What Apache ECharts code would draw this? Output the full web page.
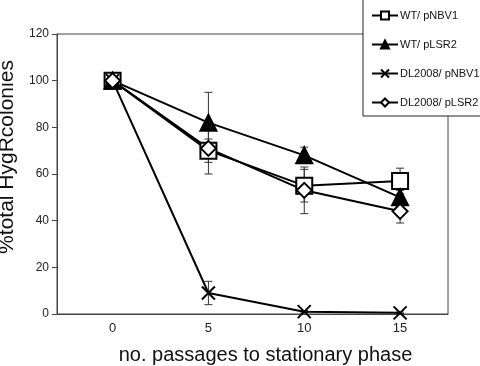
<!DOCTYPE html>
<html>
<head>
<meta charset="utf-8">
<script src="https://cdn.jsdelivr.net/npm/echarts@6/dist/echarts.min.js"></script>
<style>
  html, body { margin: 0; padding: 0; background: #fff; }
  #chart { width: 480px; height: 366px; }
</style>
</head>
<body>
<div id="chart"></div>
<script>
// passages to stationary phase
var passages = [0, 5, 10, 15];
var xTicks = [0, 5, 10, 15];

var wtNbv1 = [100, 70, 55, 57];
var wtLsr2 = [100, 82, 68, 50];
var dlNbv1 = [100, 9, 1, 0.5];
var dlLsr2 = [100, 71, 53, 44];

// error bar half-widths
var wtNbv1Err = [0, 5, 7, 5.5];
var wtLsr2Err = [0, 13, 3.5, 3];
var dlNbv1Err = [0, 5, 0.5, 0.3];
var dlLsr2Err = [0, 11, 10, 5];

var chart = echarts.init(document.getElementById('chart'));

var crossPath = 'path://M0,0L10,10M10,0L0,10';

function pairs(ys) {
  return passages.map(function (x, i) { return [x, ys[i]]; });
}

function errData(ys, errs) {
  var out = [];
  passages.forEach(function (x, i) {
    if (errs[i] > 0) out.push([x, ys[i] - errs[i], ys[i] + errs[i]]);
  });
  return out;
}

function errSeries(ys, errs) {
  return {
    type: 'custom',
    z: 1,
    silent: true,
    renderItem: function (params, api) {
      var lo = api.coord([api.value(0), api.value(1)]);
      var hi = api.coord([api.value(0), api.value(2)]);
      var w = 4;
      var st = { stroke: '#333', lineWidth: 1 };
      return {
        type: 'group',
        children: [
          { type: 'line', shape: { x1: lo[0], y1: lo[1], x2: hi[0], y2: hi[1] }, style: st },
          { type: 'line', shape: { x1: lo[0] - w, y1: lo[1], x2: lo[0] + w, y2: lo[1] }, style: st },
          { type: 'line', shape: { x1: hi[0] - w, y1: hi[1], x2: hi[0] + w, y2: hi[1] }, style: st }
        ]
      };
    },
    data: errData(ys, errs)
  };
}

function lineSeries(name, ys, symbol, size, fill) {
  return {
    name: name,
    type: 'line',
    z: 3,
    data: pairs(ys),
    symbol: symbol,
    symbolSize: size,
    showAllSymbol: true,
    lineStyle: { color: '#000', width: 2 },
    itemStyle: { color: fill, borderColor: '#000', borderWidth: 2 }
  };
}

var options = {
  animation: false,
  backgroundColor: '#fff',
  textStyle: { fontFamily: 'Liberation Sans, Arial, sans-serif' },
  grid: {
    left: 57, right: 32, top: 34, bottom: 52,
    outerBoundsMode: 'none',
    containLabel: false,
    show: true, borderColor: '#444', borderWidth: 1
  },
  legend: {
    orient: 'vertical',
    left: 363, top: -1,
    padding: [11, 8, 8, 8],
    itemWidth: 26, itemHeight: 10, itemGap: 18,
    backgroundColor: '#fff',
    borderColor: '#222', borderWidth: 1,
    textStyle: { fontSize: 11, color: '#111', padding: [0, 0, 0, -3] },
    data: ['WT/ pNBV1', 'WT/ pLSR2', 'DL2008/ pNBV1', 'DL2008/ pLSR2']
  },
  xAxis: {
    type: 'value',
    min: -2.9, max: 17.5,
    name: 'no. passages to stationary phase',
    nameLocation: 'middle',
    nameGap: 31,
    nameTextStyle: { fontSize: 20, color: '#111', padding: [0, 0, 0, 26] },
    axisLine: { onZero: false, lineStyle: { color: '#444' } },
    axisTick: { show: false },
    splitLine: { show: false },
    axisLabel: { customValues: xTicks, fontSize: 13, color: '#222', margin: 8 }
  },
  yAxis: {
    type: 'value',
    min: 0, max: 120, interval: 20,
    name: '%total HygRcolonies',
    nameLocation: 'middle',
    nameGap: 27,
    nameTextStyle: { fontSize: 21, color: '#111', padding: [0, 0, 0, 34] },
    axisLine: { show: true, onZero: false, lineStyle: { color: '#444' } },
    axisTick: { show: true, inside: false, length: 5, lineStyle: { color: '#444' } },
    splitLine: { show: false },
    axisLabel: { fontSize: 12, color: '#222', margin: 8 }
  },
  series: [
    errSeries(wtNbv1, wtNbv1Err),
    errSeries(wtLsr2, wtLsr2Err),
    errSeries(dlNbv1, dlNbv1Err),
    errSeries(dlLsr2, dlLsr2Err),
    lineSeries('WT/ pNBV1', wtNbv1, 'rect', 16, '#fff'),
    lineSeries('WT/ pLSR2', wtLsr2, 'triangle', 16, '#000'),
    lineSeries('DL2008/ pNBV1', dlNbv1, crossPath, 13, '#000'),
    lineSeries('DL2008/ pLSR2', dlLsr2, 'diamond', 15, '#fff')
  ]
};

chart.setOption(options);
</script>
</body>
</html>
